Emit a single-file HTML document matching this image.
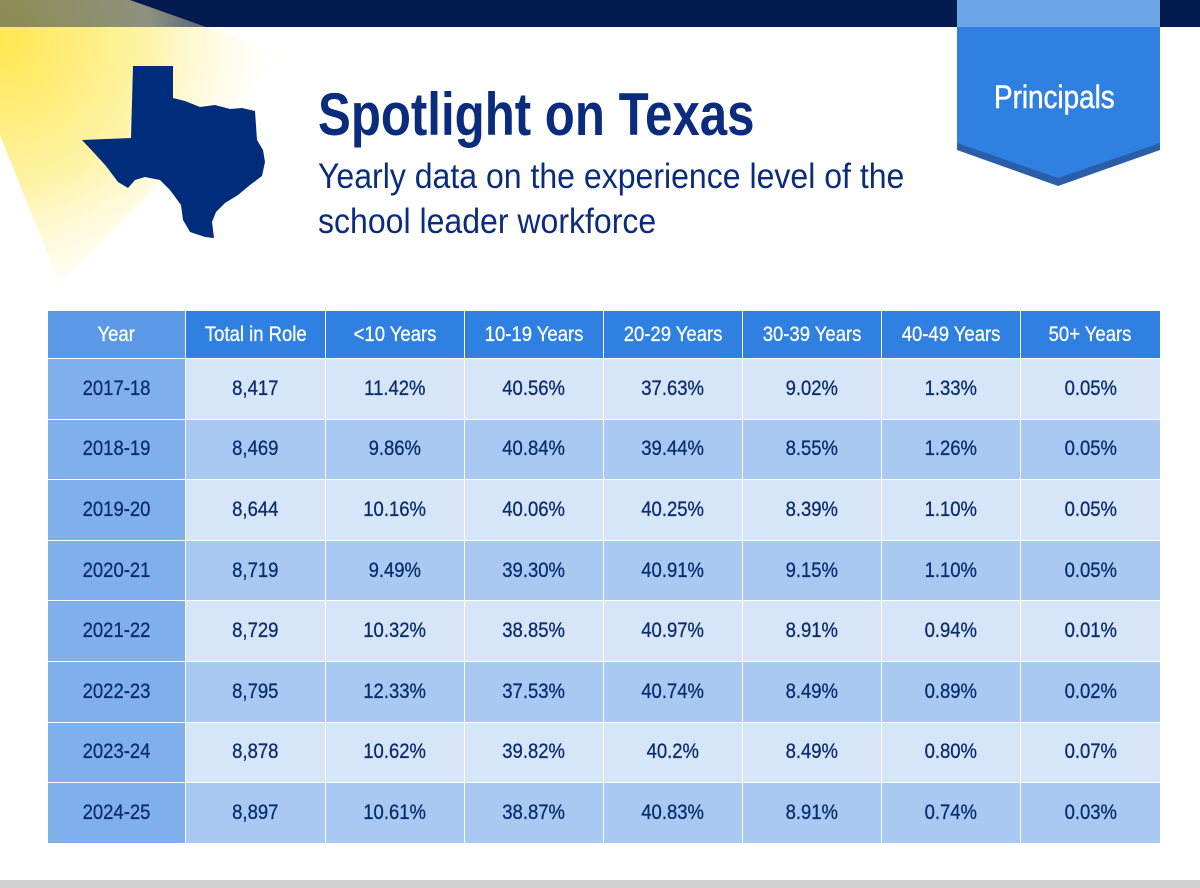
<!DOCTYPE html>
<html><head><meta charset="utf-8"><style>
body{margin:0;width:1200px;height:888px;background:#fff;overflow:hidden;position:relative;font-family:"Liberation Sans",sans-serif}
.t{position:absolute;white-space:nowrap;transform-origin:0 0;color:#0b2c7d}
table{position:absolute;left:47px;top:310px;border-collapse:collapse;table-layout:fixed}
td{border:1px solid #fff;text-align:center;color:#0b2c6f;font-size:21px;height:59.6px;padding:0}
td span{display:inline-block;transform:scaleX(.88);-webkit-text-stroke:0.3px #0b2c6f}
tr.h td span{-webkit-text-stroke:0.3px #fff}
tr.h td{background:#2f80e0;color:#fff;height:47px}
tr.h td:first-child{background:#5b99e6}
td:first-child{background:#80b0ec}
tr.a td{background:#d6e5f8}tr.b td{background:#a9c9f2}
tr.a td:first-child,tr.b td:first-child{background:#80b0ec}
</style></head><body>
<svg width="1200" height="888" style="position:absolute;left:0;top:0">
<defs>
<radialGradient id="g" cx="0" cy="40" r="300" gradientUnits="userSpaceOnUse">
<stop offset="0" stop-color="#ffe84f"/><stop offset="0.5" stop-color="#fff3a8"/><stop offset="1" stop-color="#fff" stop-opacity="0"/></radialGradient>
<clipPath id="c"><rect x="0" y="0" width="1200" height="27"/></clipPath>
</defs>
<polygon points="0,0 130,0 285,55 60,285 0,135" fill="url(#g)"/>
<rect x="0" y="0" width="1200" height="27" fill="#021a4e"/>
<polygon points="0,0 130,0 285,55 60,285 0,135" fill="url(#g)" opacity="0.55" clip-path="url(#c)"/>
<rect x="957" y="0" width="203" height="27" fill="#6ca4e8"/>
<polygon points="957,27 1160,27 1160,150 1058,186 957,150" fill="#2a5ea8"/>
<polygon points="957,27 1160,27 1160,143 1058,178 957,143" fill="#2f80e0"/>
<path d="M133,66 L173,66 L173,98 L185,101 L200,107 L215,105 L230,109 L242,108 L255,111 L257,140 L263,150 L265,162 L262,176 L250,185 L238,195 L225,203 L216,212 L212,222 L214,238 L205,237 L190,232 L183,220 L181,205 L170,190 L160,180 L145,177 L135,180 L128,188 L118,182 L106,166 L96,155 L82,140 L131,138 Z" fill="#002c7c"/>
</svg>
<div class="t" style="left:318px;top:80px;font-size:60px;font-weight:bold;transform:scaleX(.82)">Spotlight on Texas</div>
<div class="t" style="left:318px;top:154px;font-size:35px;line-height:45px;transform:scaleX(.915)">Yearly data on the experience level of the<br>school leader workforce</div>
<div class="t" style="left:994px;top:79px;font-size:32px;color:#fff;transform:scaleX(.87);-webkit-text-stroke:0.5px #fff">Principals</div>
<table>
<colgroup><col style="width:138px"><col style="width:140px"><col style="width:139px"><col style="width:139px"><col style="width:139px"><col style="width:139px"><col style="width:139px"><col style="width:140px"></colgroup>
<tr class="h"><td><span>Year</span></td><td><span>Total in Role</span></td><td><span>&lt;10 Years</span></td><td><span>10-19 Years</span></td><td><span>20-29 Years</span></td><td><span>30-39 Years</span></td><td><span>40-49 Years</span></td><td><span>50+ Years</span></td></tr>
<tr class="a"><td><span>2017-18</span></td><td><span>8,417</span></td><td><span>11.42%</span></td><td><span>40.56%</span></td><td><span>37.63%</span></td><td><span>9.02%</span></td><td><span>1.33%</span></td><td><span>0.05%</span></td></tr>
<tr class="b"><td><span>2018-19</span></td><td><span>8,469</span></td><td><span>9.86%</span></td><td><span>40.84%</span></td><td><span>39.44%</span></td><td><span>8.55%</span></td><td><span>1.26%</span></td><td><span>0.05%</span></td></tr>
<tr class="a"><td><span>2019-20</span></td><td><span>8,644</span></td><td><span>10.16%</span></td><td><span>40.06%</span></td><td><span>40.25%</span></td><td><span>8.39%</span></td><td><span>1.10%</span></td><td><span>0.05%</span></td></tr>
<tr class="b"><td><span>2020-21</span></td><td><span>8,719</span></td><td><span>9.49%</span></td><td><span>39.30%</span></td><td><span>40.91%</span></td><td><span>9.15%</span></td><td><span>1.10%</span></td><td><span>0.05%</span></td></tr>
<tr class="a"><td><span>2021-22</span></td><td><span>8,729</span></td><td><span>10.32%</span></td><td><span>38.85%</span></td><td><span>40.97%</span></td><td><span>8.91%</span></td><td><span>0.94%</span></td><td><span>0.01%</span></td></tr>
<tr class="b"><td><span>2022-23</span></td><td><span>8,795</span></td><td><span>12.33%</span></td><td><span>37.53%</span></td><td><span>40.74%</span></td><td><span>8.49%</span></td><td><span>0.89%</span></td><td><span>0.02%</span></td></tr>
<tr class="a"><td><span>2023-24</span></td><td><span>8,878</span></td><td><span>10.62%</span></td><td><span>39.82%</span></td><td><span>40.2%</span></td><td><span>8.49%</span></td><td><span>0.80%</span></td><td><span>0.07%</span></td></tr>
<tr class="b"><td><span>2024-25</span></td><td><span>8,897</span></td><td><span>10.61%</span></td><td><span>38.87%</span></td><td><span>40.83%</span></td><td><span>8.91%</span></td><td><span>0.74%</span></td><td><span>0.03%</span></td></tr>
</table>
<div style="position:absolute;left:0;top:880px;width:1200px;height:8px;background:#d0d0d0"></div>
</body></html>
